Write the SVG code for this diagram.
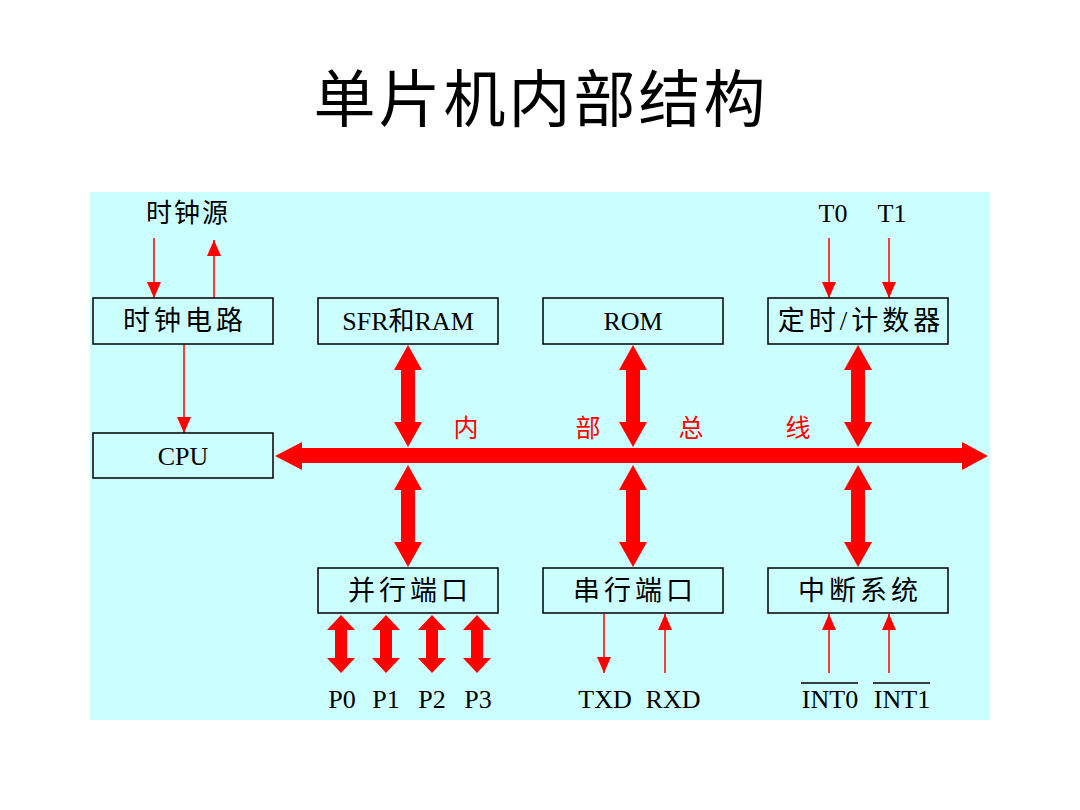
<svg xmlns="http://www.w3.org/2000/svg" xmlns:xlink="http://www.w3.org/1999/xlink" width="1080" height="810" viewBox="0 0 1080 810">
<style>
.box{fill:#CCFFFF;stroke:#000;stroke-width:1.5}
.lbl{font-family:"Liberation Serif","Noto Sans CJK SC",serif;font-size:26px;fill:#000;text-anchor:middle;dominant-baseline:central}
.cjk{font-size:27px;letter-spacing:4px}
.bus{font-family:"Liberation Serif","Noto Sans CJK SC",serif;font-size:25px;fill:#FF0000;text-anchor:middle}
.pin{font-family:"Liberation Serif","Noto Sans CJK SC",serif;font-size:26px;fill:#000;text-anchor:middle}
.thin{stroke:#FF0000;stroke-width:1.5;fill:none;marker-end:url(#ah)}
.red{fill:#FF0000}
</style>
<defs>
<marker id="ah" markerUnits="userSpaceOnUse" markerWidth="16" markerHeight="14" viewBox="0 0 16 14" refX="16" refY="7" orient="auto">
<path d="M0,0 L16,7 L0,14 Z" fill="#FF0000"/>
</marker>
<polygon id="dbl" points="0,0 14,25 7,25 7,77 14,77 0,102 -14,77 -7,77 -7,25 -14,25"/>
<polygon id="sdbl" points="0,0 14,15 6,15 6,43 14,43 0,58 -14,43 -6,43 -6,15 -14,15"/>
</defs>
<rect x="0" y="0" width="1080" height="810" fill="#FFFFFF"/>
<rect x="90" y="192" width="900" height="528" fill="#CCFFFF"/>
<text x="541" y="122" font-family="'Noto Sans CJK SC',serif" font-size="62" letter-spacing="3" text-anchor="middle" fill="#000">单片机内部结构</text>

<g id="connectors">
<polygon class="red" points="275,456 302,442 302,448 962,448 962,442 988,456 962,470 962,463 302,463 302,470"/>
<use xlink:href="#dbl" href="#dbl" x="408" y="345" class="red"/>
<use xlink:href="#dbl" href="#dbl" x="633" y="345" class="red"/>
<use xlink:href="#dbl" href="#dbl" x="858" y="345" class="red"/>
<use xlink:href="#dbl" href="#dbl" x="408" y="465" class="red"/>
<use xlink:href="#dbl" href="#dbl" x="633" y="465" class="red"/>
<use xlink:href="#dbl" href="#dbl" x="858" y="465" class="red"/>
<use xlink:href="#sdbl" href="#sdbl" x="341" y="615" class="red"/>
<use xlink:href="#sdbl" href="#sdbl" x="386" y="615" class="red"/>
<use xlink:href="#sdbl" href="#sdbl" x="432" y="615" class="red"/>
<use xlink:href="#sdbl" href="#sdbl" x="477" y="615" class="red"/>
<line class="thin" x1="154" y1="238" x2="154" y2="298"/>
<line class="thin" x1="214" y1="298" x2="214" y2="240"/>
<line class="thin" x1="184" y1="344" x2="184" y2="433"/>
<line class="thin" x1="829" y1="238" x2="829" y2="298"/>
<line class="thin" x1="889" y1="238" x2="889" y2="298"/>
<line class="thin" x1="604" y1="614" x2="604" y2="673"/>
<line class="thin" x1="665" y1="673" x2="665" y2="614"/>
<line class="thin" x1="829" y1="673" x2="829" y2="614"/>
<line class="thin" x1="889" y1="673" x2="889" y2="614"/>
</g>

<g id="bus-label">
<text class="bus" x="466" y="437">内</text>
<text class="bus" x="588" y="437">部</text>
<text class="bus" x="691" y="437">总</text>
<text class="bus" x="798" y="437">线</text>
</g>

<g id="clock-source"><text class="pin" x="188" y="222" letter-spacing="2">时钟源</text></g>
<g id="t0"><text class="pin" x="833" y="222">T0</text></g>
<g id="t1"><text class="pin" x="892" y="222">T1</text></g>

<g id="clock"><rect class="box" x="93" y="298" width="180" height="46"/><text class="lbl cjk" x="185" y="321">时钟电路</text></g>
<g id="sfr"><rect class="box" x="318" y="298" width="180" height="46"/><text class="lbl" x="408" y="321">SFR和RAM</text></g>
<g id="rom"><rect class="box" x="543" y="298" width="180" height="46"/><text class="lbl" x="633" y="321">ROM</text></g>
<g id="timer"><rect class="box" x="768" y="298" width="180" height="46"/><text class="lbl cjk" x="861" y="321">定时/计数器</text></g>
<g id="cpu"><rect class="box" x="93" y="433" width="180" height="45"/><text class="lbl" x="183" y="456">CPU</text></g>
<g id="parallel"><rect class="box" x="318" y="568" width="180" height="45"/><text class="lbl cjk" x="410" y="591">并行端口</text></g>
<g id="serial"><rect class="box" x="543" y="568" width="180" height="45"/><text class="lbl cjk" x="635" y="591">串行端口</text></g>
<g id="interrupt"><rect class="box" x="768" y="568" width="180" height="45"/><text class="lbl cjk" x="860" y="591">中断系统</text></g>

<g id="pins">
<text class="pin" x="342" y="708">P0</text>
<text class="pin" x="386" y="708">P1</text>
<text class="pin" x="432" y="708">P2</text>
<text class="pin" x="478" y="708">P3</text>
<text class="pin" x="605" y="708">TXD</text>
<text class="pin" x="673" y="708">RXD</text>
<text class="pin" x="830" y="708">INT0</text>
<text class="pin" x="902" y="708">INT1</text>
<line x1="801" y1="683" x2="858" y2="683" stroke="#000" stroke-width="1.5"/>
<line x1="873" y1="683" x2="930" y2="683" stroke="#000" stroke-width="1.5"/>
</g>
</svg>
